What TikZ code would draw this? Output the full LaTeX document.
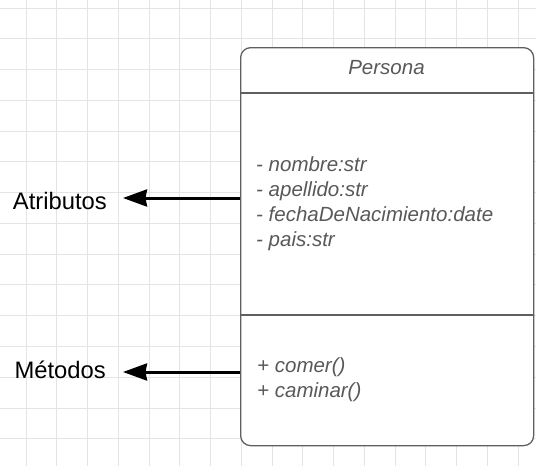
\documentclass[tikz,border=0pt]{standalone}
\usepackage{fontspec}
\setmainfont{Liberation Sans}
\usepackage{tikz}
\usetikzlibrary{arrows.meta}
\usetikzlibrary{positioning}
\definecolor{umlgray}{HTML}{5F5F5F}
\definecolor{textgray}{HTML}{595959}
\definecolor{gridgray}{HTML}{E4E4E4}

\begin{document}
\begin{tikzpicture}[
		x=1pt,y=-1pt,
		>={Stealth[length=24pt,width=17pt,inset=1.5pt]},
		gridline/.style={draw=gridgray,line width=0.9pt},
		umlclass/.style={draw=umlgray,fill=white,line width=1.3pt,rectangle,rounded corners=10pt,minimum width=293pt,minimum height=398pt,inner sep=0pt},
		umlsep/.style={draw=umlgray,line width=1.3pt},
		member/.style={text=textgray,font=\fontsize{20.5}{25}\selectfont\itshape,inner sep=0pt},
		lbl/.style={font=\fontsize{23.8}{28}\selectfont,inner sep=0pt}
	]
		\useasboundingbox (0,0) rectangle (536,466);

		% background grid
		\foreach \gx in {0,...,16}
			\draw [gridline] ({26+30.75*\gx},0) -- ({26+30.75*\gx},466);
		\foreach \gy in {0,...,14}
			\draw [gridline] (0,{8+30.77*\gy}) -- (536,{8+30.77*\gy});

		% class box
		\node [umlclass,anchor=north west] (persona) at (240,47) {};
		\coordinate (head_y) at (0,93);
		\coordinate (body_y) at (0,315);
		\draw [umlsep] (persona.west |- head_y) -- (persona.east |- head_y);
		\draw [umlsep] (persona.west |- body_y) -- (persona.east |- body_y);

		\node [member,anchor=base] (class_name) at (386.5,74) {Persona};
		\foreach \attr [count=\i] in {nombre:str,apellido:str,fechaDeNacimiento:date,pais:str}
			\node [member,anchor=base west] (attr_\i) at (256,{171.5+25*(\i-1)}) {- \attr};
		\foreach \meth [count=\i] in {comer(),caminar()}
			\node [member,anchor=base west] (meth_\i) at (257,{372+25*(\i-1)}) {+ \meth};

		% labels
		\node [lbl,anchor=base east] (atributos) at (107,209) {Atributos};
		\node [lbl,anchor=base east] (metodos) at (106,378) {Métodos};

		\coordinate (attr_port) at (persona.west |- 0,198);
		\coordinate (meth_port) at (persona.west |- 0,372);
		\draw [->,line width=3pt,shorten >=16pt] (attr_port) -- (attr_port -| atributos.east);
		\draw [->,line width=3pt,shorten >=17pt] (meth_port) -- (meth_port -| metodos.east);
	\end{tikzpicture}
\end{document}
